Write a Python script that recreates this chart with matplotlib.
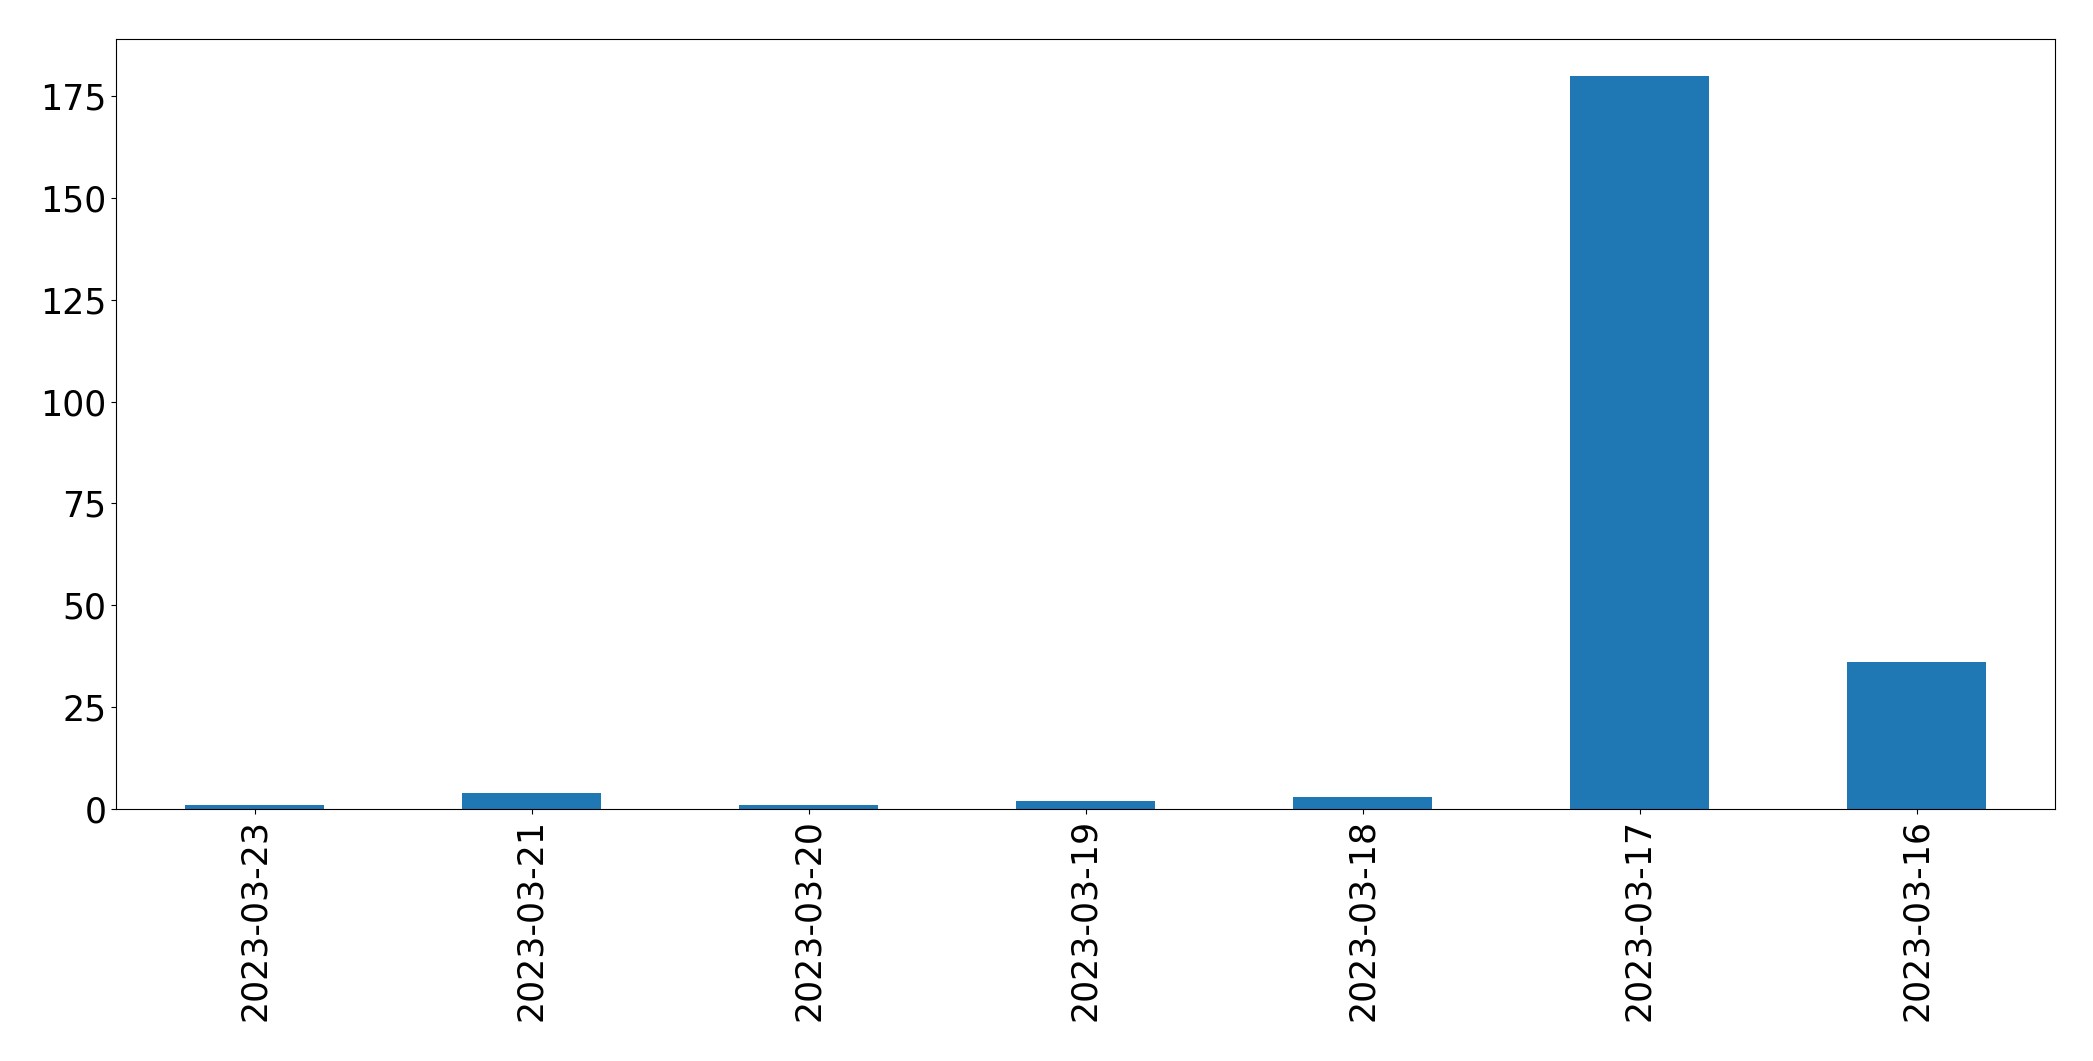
import matplotlib
matplotlib.use("Agg")
import matplotlib.pyplot as plt
import numpy as np

dates = ["2023-03-23", "2023-03-21", "2023-03-20", "2023-03-19",
         "2023-03-18", "2023-03-17", "2023-03-16"]
counts = [1, 4, 1, 2, 3, 180, 36]

fig = plt.figure(figsize=(20.93, 10.61), dpi=100)
ax = fig.add_subplot(111)
x = np.arange(len(dates))
ax.bar(x, counts, width=0.5, color="#1f77b4")
ax.set_xticks(x)
ax.set_xticklabels(dates, rotation=90)
ax.set_xlim(-0.5, len(dates) - 0.5)
ax.set_ylim(0, max(counts) * 1.05)
ax.tick_params(labelsize=25)
fig.subplots_adjust(left=116 / 2093, right=2055 / 2093,
                    top=1 - 39 / 1061, bottom=1 - 809 / 1061)
plt.savefig("out.png", dpi=100)
plt.close()
